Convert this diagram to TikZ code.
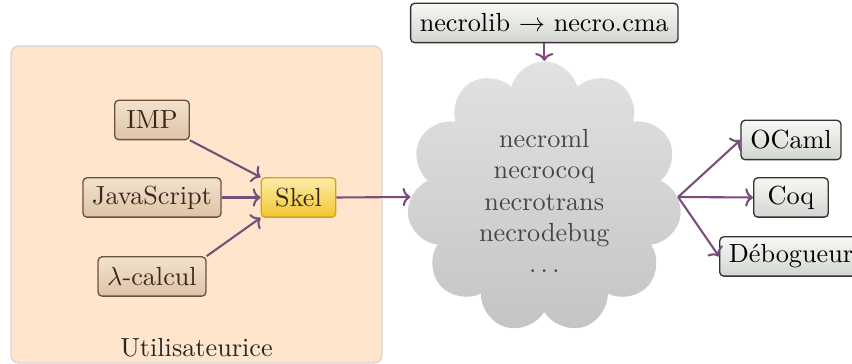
\documentclass[tikz,border=0pt]{standalone}
\usetikzlibrary{shapes.symbols,arrows.meta}
\definecolor{boxfill}{RGB}{255,229,204}
\definecolor{boxborder}{RGB}{214,214,214}
\definecolor{intop}{RGB}{242,226,206}
\definecolor{inbot}{RGB}{220,196,166}
\definecolor{inborder}{RGB}{110,80,58}
\definecolor{intext}{RGB}{60,40,25}
\definecolor{sktop}{RGB}{252,236,170}
\definecolor{skbot}{RGB}{242,198,48}
\definecolor{skborder}{RGB}{214,160,30}
\definecolor{outtop}{RGB}{246,248,244}
\definecolor{outbot}{RGB}{210,214,208}
\definecolor{outborder}{RGB}{50,50,50}
\definecolor{cltop}{RGB}{226,226,226}
\definecolor{clbot}{RGB}{196,196,196}
\definecolor{cltext}{RGB}{70,70,70}
\definecolor{arrowc}{RGB}{122,78,122}
\begin{document}
\begin{tikzpicture}[x=0.38168pt,y=-0.38168pt,
  stdbox/.style={rounded corners=1.5pt, minimum width=1cm, minimum height=15pt,
    inner xsep=3.5pt, inner ysep=2pt, line width=0.5pt},
  inbox/.style={stdbox, draw=inborder, top color=intop, bottom color=inbot, text=intext},
  skelbox/.style={stdbox, draw=skborder, top color=sktop, bottom color=skbot, text=intext},
  outbox/.style={stdbox, draw=outborder, top color=outtop, bottom color=outbot, text=black},
  conn/.style={draw=arrowc, line width=0.8pt, -{To[length=3pt,width=7pt]}}]
\useasboundingbox (0,0) rectangle (852,364);
\node (userbox) [draw=boxborder, fill=boxfill, rounded corners=3pt, line width=0.5pt,
  minimum width=141.6pt, minimum height=121pt, inner sep=0pt] at (196.5,204.5) {};
\node (usertext) [text=black!85] at (196.5,348) {Utilisateurice};
\node (imp) [inbox] at (152,120) {IMP};
\node (js) [inbox] at (152,197.5) {JavaScript};
\node (lam) [inbox] at (152,276.5) {$\lambda$-calcul};
\node (skel) [skelbox] at (298.5,197.5) {Skel};
\node (lib) [outbox] at (544.3,23) {necrolib $\rightarrow$ necro.cma};
\node (cloud) [cloud, cloud puffs=11, aspect=1,
  top color=cltop, bottom color=clbot, draw=none,
  minimum width=105pt, minimum height=103.5pt, inner sep=0pt] at (544.3,197) {};
\node (cloudtext) [text=cltext, align=center] at (544.3,201)
  {necroml\\necrocoq\\necrotrans\\necrodebug\\$\dots$};
\node (ocaml) [outbox] at (791,140) {OCaml};
\node (coq) [outbox] at (791,197.5) {Coq};
\node (debug) [outbox] at (791,256.5) {Débogueur};
\draw[conn] (imp.south east) -- (skel.north west);
\draw[conn] (js.east) -- (skel.west);
\draw[conn] (lam.north east) -- (skel.south west);
\draw[conn] (skel.east) -- (cloud.west);
\draw[conn] (lib.south) -- (cloud.north);
\draw[conn] (cloud.east) -- (ocaml.west);
\draw[conn] (cloud.east) -- (coq.west);
\draw[conn] (cloud.east) -- (debug.west);
\end{tikzpicture}
\end{document}
